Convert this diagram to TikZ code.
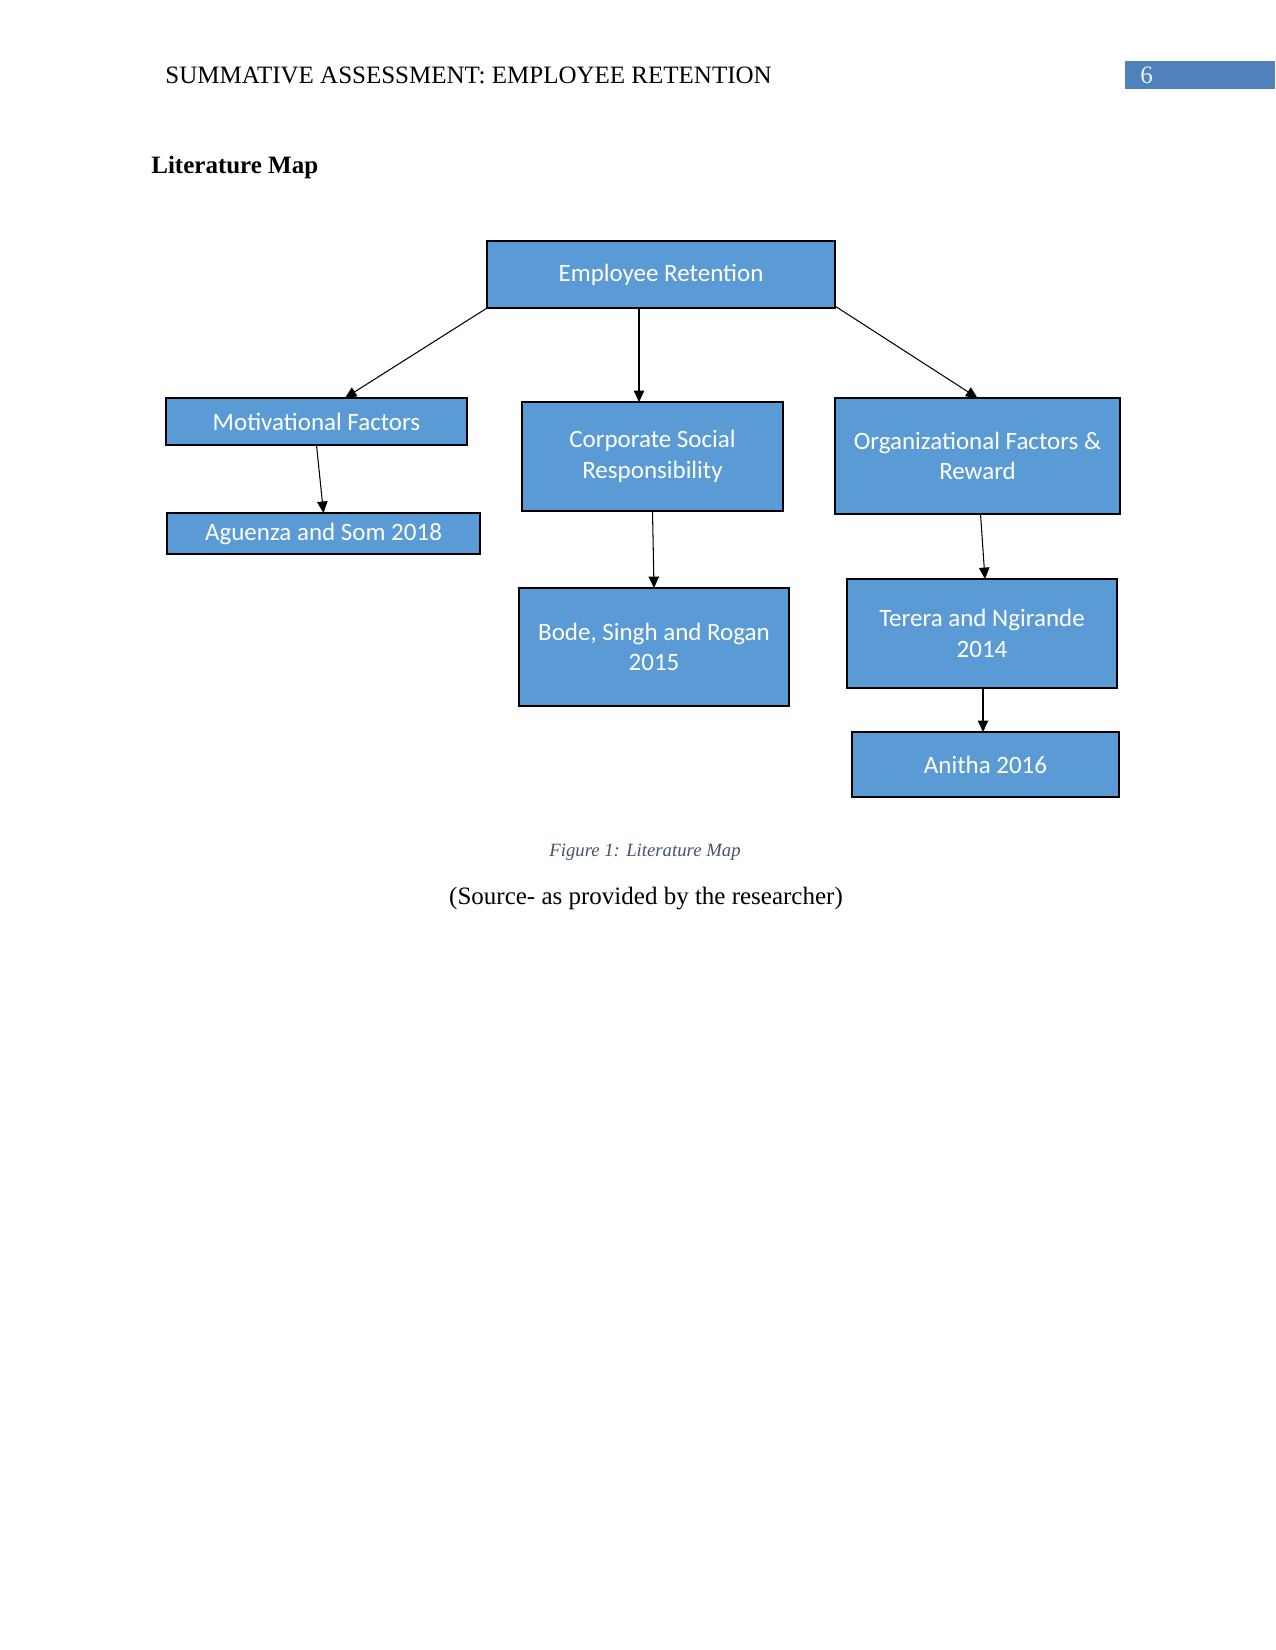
\documentclass[tikz,border=0pt]{standalone}
\usepackage{fontspec}
\setmainfont{Liberation Serif}
\newfontfamily\boxfont{Carlito}
\usetikzlibrary{calc,arrows.meta,positioning}

\definecolor{boxblue}{HTML}{5B9BD5}
\definecolor{pageblue}{HTML}{4F81BD}
\definecolor{capgray}{HTML}{44546A}

\tikzset{
  mapbox/.style={draw=black, line width=1pt, fill=boxblue, text=white,
    font=\boxfont\fontsize{12}{14.6}\selectfont, align=center,
    inner sep=0pt, outer sep=0pt},
  maparrow/.style={-{Triangle[length=5.5pt,width=5pt]}, line width=0.5pt}
}

\begin{document}
\begin{tikzpicture}[x=0.48pt,y=-0.48pt]
                \useasboundingbox[fill=white] (0,0) rectangle (1275,1650);
                % Header
                \node[anchor=base west, font=\fontsize{12}{14}\selectfont] (header) at (158,84) {SUMMATIVE ASSESSMENT: EMPLOYEE RETENTION};
                \fill[pageblue] (1125,61) rectangle (1275,89);
                \node[anchor=base west, text=white!90!pageblue, font=\fontsize{12}{14}\selectfont] (pagenum) at (1133,84) {6};
                \node[anchor=base west, font=\bfseries\fontsize{12}{14}\selectfont] (title) at (144,174) {Literature Map};
                
                % Boxes
                \node[mapbox, minimum width=167pt, minimum height=32.2pt] (er) at (661,274.5) {Employee Retention};
                \node[mapbox, minimum width=144.5pt, minimum height=22.6pt] (motiv) at (316.5,421.5) {Motivational Factors};
                \node[mapbox, minimum width=125.3pt, minimum height=52.3pt] (csr) at (652.5,456.5) {Corporate Social\\Responsibility};
                \node[mapbox, minimum width=136.8pt, minimum height=55.7pt] (org) at (977.5,456) {Organizational Factors \&\\Reward};
                \node[mapbox, minimum width=150.2pt, minimum height=19.7pt] (aguenza) at (323.5,533.5) {Aguenza and Som 2018};
                \node[mapbox, minimum width=129.6pt, minimum height=56.6pt] (bode) at (654,647) {Bode, Singh and Rogan\\2015};
                \node[mapbox, minimum width=129.6pt, minimum height=52.3pt] (terera) at (982,633.5) {Terera and Ngirande\\2014};
                \node[mapbox, minimum width=128.2pt, minimum height=31.2pt] (anitha) at (985.5,764.5) {Anitha 2016};
                
                % Arrows
                \draw[maparrow] (er.south west) -- ($(motiv.north)+(28.5,0)$);
                \draw[maparrow] ($(er.south)+(-22,0)$) -- ($(csr.north)+(-13.5,0)$);
                \draw[maparrow] ($(er.south east)+(0,-2)$) -- ($(org.north)+(0,0)$);
                \draw[maparrow] ($(org.south)+(3,0)$) -- ($(terera.north)+(3,0)$);
                \draw[maparrow] (motiv.south) -- (aguenza.north);
                \draw[maparrow] (csr.south) -- (bode.north);
                \draw[maparrow] ($(terera.south)+(1,0)$) -- ($(terera.south |- anitha.north)+(1,0)$);
                
                % Caption
                \node[anchor=base, text=capgray, font=\itshape\fontsize{9}{11}\selectfont] (caption) at (645,856) {Figure 1: Literature Map};
                \node[anchor=base, font=\fontsize{12}{14}\selectfont] (source) at (646,904) {(Source- as provided by the researcher)};
            \end{tikzpicture}
\end{document}
